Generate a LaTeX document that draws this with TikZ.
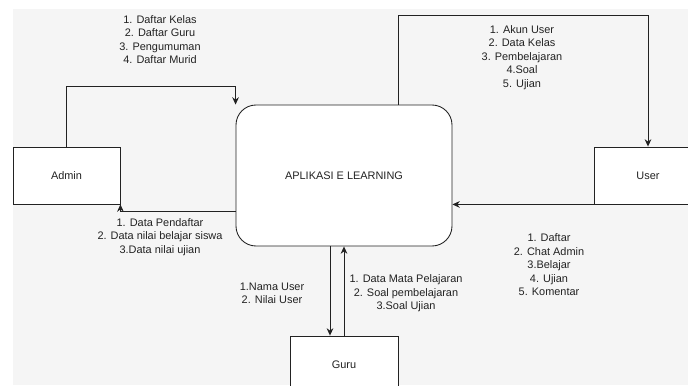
\documentclass[tikz,border=0pt]{standalone}
\usepackage{fontspec}
\setmainfont{Liberation Sans}
\usetikzlibrary{arrows.meta,calc}
\definecolor{bg}{HTML}{F5F5F5}
\definecolor{ink}{HTML}{222222}
\tikzset{
  ent/.style={draw=ink, line width=0.65pt, fill=white, minimum width=107*0.75pt, minimum height=57*0.75pt, inner sep=0pt, text=ink},
  arr/.style={draw=ink, line width=0.65pt, -{Stealth[length=5.5pt,width=5pt]}},
  lbl/.style={align=center, text=ink, font=\fontsize{8.2}{10.1}\selectfont, inner sep=0pt},
}
\begin{document}
\begin{tikzpicture}[x=0.75pt,y=-0.75pt, font=\fontsize{8.2}{10.1}\selectfont]
\useasboundingbox (0,0) rectangle (688,385);
\fill[white] (0,0) rectangle (688,385);
\fill[bg] (13,9) rectangle (688,385);
% entities
\node[ent] (admin) at (66.5,175.5) {Admin};
\node[ent, minimum width=216*0.75pt, minimum height=141*0.75pt, rounded corners=15pt] (app) at (344,175.5) {APLIKASI E LEARNING};
\node[ent, minimum width=108*0.75pt] (user) at (648,175.5) {User};
\node[ent, minimum width=108*0.75pt] (guru) at (344,364.5) {Guru};
% connectors
\draw[arr] (admin.north) -- ++(0,-60) -| (app.north west);
\draw[arr] ($(app.north)+(54,0)$) -- ++(0,-89) -| (user.north);
\draw[arr] (user.south west) -- (app.east |- user.south west);
\draw[arr] ($(app.west)+(0,35.5)$) -| (admin.south east);
\draw[arr] ($(app.south)+(-14,0)$) -- ($(guru.north)+(-14,0)$);
\draw[arr] (guru.north) -- (app.south);
% labels
\node[lbl] (l1) at (160,39.5) {1. Daftar Kelas\\2. Daftar Guru\\3. Pengumuman\\4. Daftar Murid};
\node[lbl] (l2) at (522,57.5) {1. Akun User\\2. Data Kelas\\3. Pembelajaran\\4.Soal\\5. Ujian};
\node[lbl] (l3) at (160,237) {1. Data Pendaftar\\2. Data nilai belajar siswa\\3.Data nilai ujian};
\node[lbl] (l4) at (272,293.5) {1.Nama User\\2. Nilai User};
\node[lbl] (l5) at (406,293.5) {1. Data Mata Pelajaran\\2. Soal pembelajaran\\3.Soal Ujian};
\node[lbl] (l6) at (549,265) {1. Daftar\\2. Chat Admin\\3.Belajar\\4. Ujian\\5. Komentar};
\end{tikzpicture}
\end{document}
